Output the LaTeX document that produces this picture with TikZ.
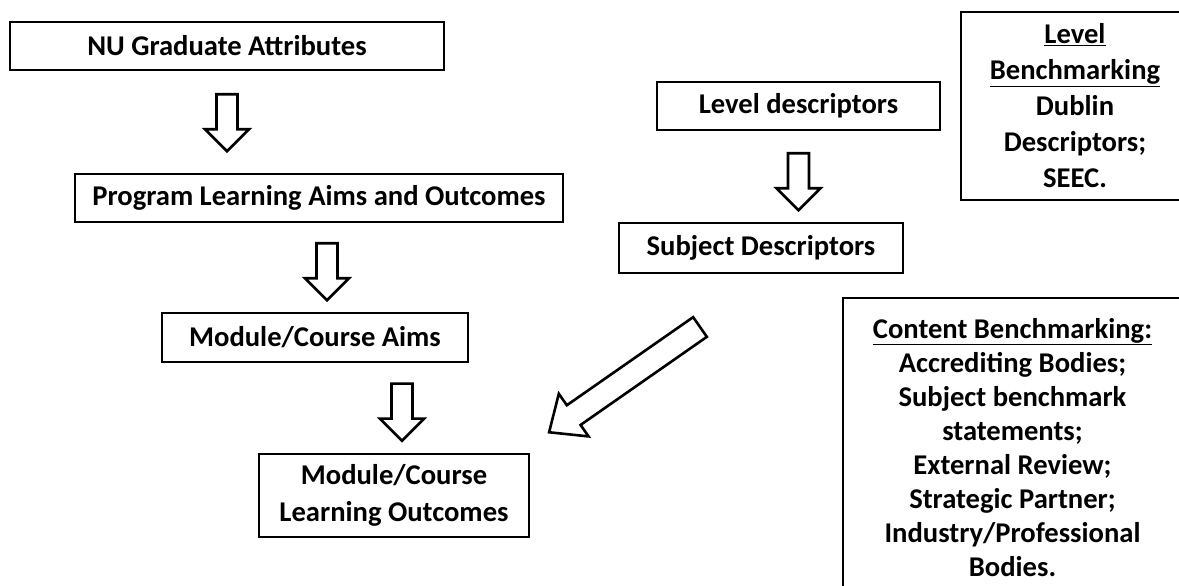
\documentclass[tikz,border=0pt]{standalone}
\usepackage{fontspec}
\setmainfont{Carlito}
\usetikzlibrary{positioning, calc}

\begin{document}
\begin{tikzpicture}[
    x=1pt, y=1pt,
    font=\fontsize{28.6}{34}\selectfont\bfseries,
    box/.style={
        draw=black,
        fill=white,
        rectangle,
        line width=2.6pt,
        inner sep=0pt,
        minimum height=48pt,
        align=center
    },
    blockline/.style={
        draw=black,
        fill=white,
        line width=2.6pt,
        line join=miter
    },
    downblock/.pic={
        \draw[blockline] (-10.5,0) -- (-10.5,-35) -- (-22,-35) -- (0,-57)
            -- (22,-35) -- (10.5,-35) -- (10.5,0) -- cycle;
    }
]
\useasboundingbox (0,0) rectangle (1179,586);
\clip (0,0) rectangle (1179,586);

% ================= LEFT COLUMN =================
\node[box, minimum width=434pt] (grad) at (227,540) {NU Graduate Attributes};
\node[box, minimum width=488pt] (prog) at (319,388) {Program Learning Aims and Outcomes};
\node[box, minimum width=306pt, minimum height=49pt] (aims) at (315,248.5) {Module/Course Aims};
\node[box, minimum width=270pt, minimum height=83pt, font=\fontsize{28.6}{37}\selectfont\bfseries] (outc) at (394,90.5) {Module/Course\\Learning Outcomes};

\pic at ([yshift=-23pt]grad.south) {downblock};
\pic at ([xshift=8pt, yshift=-20pt]prog.south) {downblock};
\pic at ([yshift=12pt+57pt]outc.north -| 402,0) {downblock};

% ================= DESCRIPTORS =================
\node[box, minimum width=283pt] (level) at (798.5,480) {Level descriptors};
\node[box, minimum width=284pt, minimum height=50pt] (subj) at (761,338) {Subject Descriptors};

\pic at ([yshift=-22pt]level.south) {downblock};

% subject descriptors -> learning outcomes
\coordinate (tail) at (700,259);
\begin{scope}[shift={(tail)}, rotate=214.9]
    \draw[blockline] (0,-12) -- (154,-12) -- (154,-26) -- (184,0)
        -- (154,26) -- (154,12) -- (0,12) -- cycle;
\end{scope}

% ================= BENCHMARKING =================
\node[box, minimum width=228pt, minimum height=188pt, font=\fontsize{28.6}{36}\selectfont\bfseries] (lvlbench) at (1075,480)
    {\underline{Level}\\\underline{Benchmarking}\\Dublin\\Descriptors;\\SEEC.};
\node[box, minimum width=339pt, minimum height=299pt] (cntbench) at (1012.5,138.5)
    {\underline{Content Benchmarking:}\\Accrediting Bodies;\\Subject benchmark\\statements;\\External Review;\\Strategic Partner;\\Industry/Professional\\Bodies.};

\end{tikzpicture}
\end{document}
